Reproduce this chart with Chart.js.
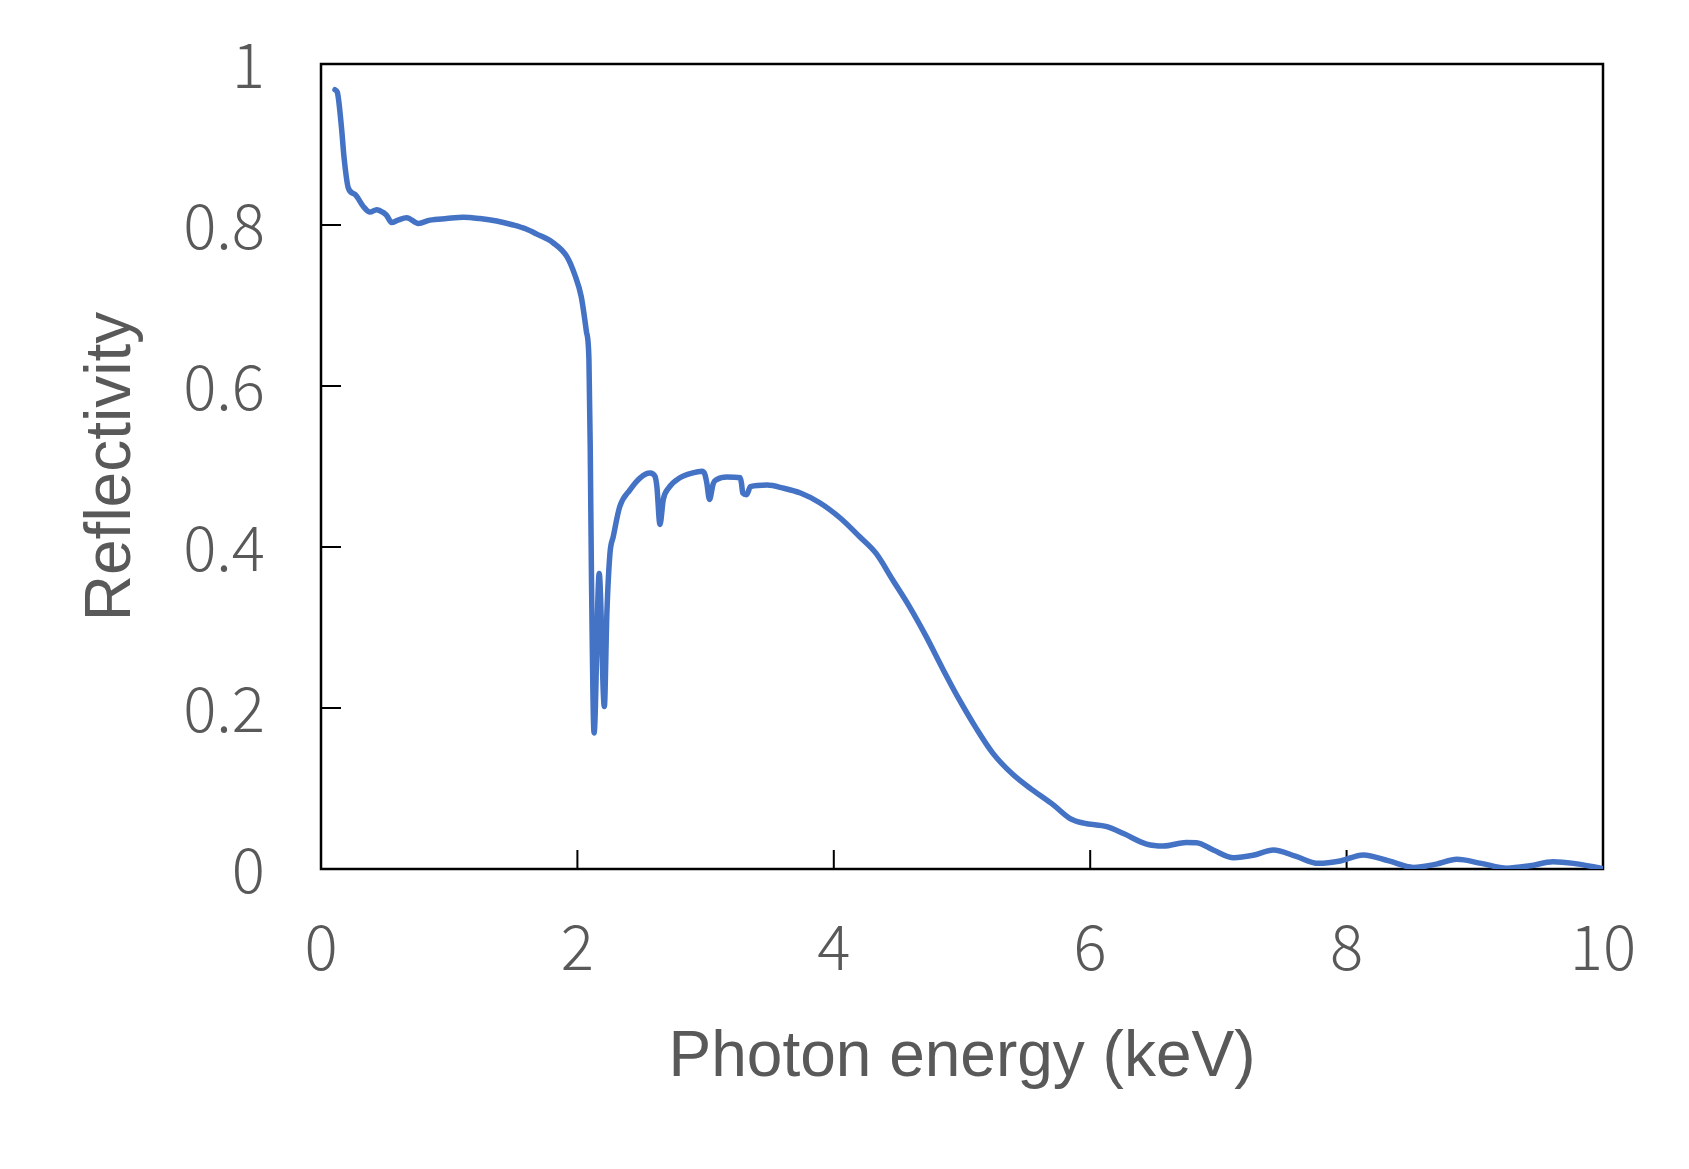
<!DOCTYPE html>
<html>
<head>
<meta charset="utf-8">
<script src="https://cdn.jsdelivr.net/npm/chart.js@4.4.1/dist/chart.umd.min.js"></script>
<style>
  html, body { margin: 0; padding: 0; background: #fff; }
  #wrap { width: 1689px; height: 1169px; }
</style>
</head>
<body>
<div id="wrap"><canvas id="reflChart" width="1689" height="1169"></canvas></div>
<script>
// Photon energy (keV)
const energy = [
    0.109, 0.127, 0.161, 0.179, 0.213, 0.265, 0.33, 0.382, 0.434, 0.49,
    0.512, 0.551, 0.60, 0.668, 0.759, 0.85, 0.98, 1.11, 1.24, 1.37,
    1.50, 1.60, 1.68, 1.81, 1.917, 1.98, 2.03, 2.07, 2.09, 2.10,
    2.11, 2.13, 2.17, 2.21, 2.23, 2.254, 2.28, 2.33, 2.41, 2.49,
    2.566, 2.605, 2.62, 2.644, 2.67, 2.71, 2.80, 2.90, 2.97, 2.995,
    3.01, 3.03, 3.06, 3.09, 3.165, 3.27, 3.28, 3.29, 3.32, 3.35,
    3.48, 3.61, 3.74, 3.89, 4.05, 4.20, 4.33, 4.46, 4.59, 4.72,
    4.855, 4.98, 5.11, 5.24, 5.40, 5.56, 5.71, 5.84, 5.95,
    6.13, 6.26, 6.44, 6.57, 6.75, 6.83, 6.96, 7.12, 7.27, 7.43,
    7.60, 7.78, 7.95, 8.13, 8.33, 8.52, 8.70, 8.86, 9.05, 9.25,
    9.43, 9.61, 9.77, 10.0
];

// Reflectivity at each energy
const reflectivity = [
    0.968, 0.965, 0.919, 0.885, 0.846, 0.838, 0.823, 0.816, 0.819, 0.815,
    0.812, 0.803, 0.806, 0.809, 0.802, 0.806, 0.808, 0.8096, 0.808, 0.805,
    0.800, 0.795, 0.789, 0.778, 0.761, 0.738, 0.711, 0.668, 0.633, 0.525,
    0.359, 0.169, 0.367, 0.202, 0.318, 0.392, 0.413, 0.450, 0.471, 0.486,
    0.492, 0.488, 0.475, 0.428, 0.459, 0.473, 0.486, 0.492, 0.494, 0.490,
    0.479, 0.459, 0.479, 0.484, 0.487, 0.486, 0.479, 0.467, 0.465, 0.475,
    0.477, 0.473, 0.467, 0.455, 0.436, 0.413, 0.392, 0.359, 0.326, 0.289,
    0.247, 0.210, 0.175, 0.144, 0.117, 0.097, 0.080, 0.063, 0.057,
    0.0526, 0.044, 0.031, 0.0286, 0.033, 0.0327, 0.0236, 0.0140, 0.017, 0.0236,
    0.016, 0.007, 0.010, 0.0174, 0.010, 0.002, 0.006, 0.012, 0.007, 0.001,
    0.004, 0.009, 0.007, 0.0004
];

const xTicks = [0, 2, 4, 6, 8, 10];
const yTicks = [0, 0.2, 0.4, 0.6, 0.8, 1];

const tickFont = { family: '"Noto Sans CJK JP", "Noto Sans", sans-serif', size: 62, weight: 300 };
const titleFont = { family: '"Liberation Sans", Arial, sans-serif', size: 64 };
const textColor = '#595959';

// Frame around the plot area plus inward tick marks
const framePlugin = {
    id: 'frame',
    beforeDatasetsDraw(chart) {
        const { ctx, chartArea: a, scales } = chart;
        ctx.save();
        ctx.strokeStyle = '#000';
        ctx.lineWidth = 2.5;
        ctx.strokeRect(a.left, a.top, a.right - a.left, a.bottom - a.top);
        ctx.lineWidth = 2;
        ctx.beginPath();
        xTicks.slice(1, -1).forEach(v => {
            const px = scales.x.getPixelForValue(v);
            ctx.moveTo(px, a.bottom);
            ctx.lineTo(px, a.bottom - 19);
        });
        yTicks.slice(1, -1).forEach(v => {
            const py = scales.y.getPixelForValue(v);
            ctx.moveTo(a.left, py);
            ctx.lineTo(a.left + 20, py);
        });
        ctx.stroke();
        ctx.restore();
    }
};

const points = energy.map((e, i) => ({ x: e, y: reflectivity[i] }));

new Chart(document.getElementById('reflChart'), {
    type: 'line',
    data: {
        datasets: [{
            data: points,
            borderColor: '#4472C4',
            borderWidth: 5.5,
            pointRadius: 0,
            cubicInterpolationMode: 'monotone',
            borderCapStyle: 'round',
            borderJoinStyle: 'round',
            fill: false
        }]
    },
    options: {
        responsive: false,
        animation: false,
        devicePixelRatio: 1,
        layout: { padding: { left: 0, top: 64, right: 86, bottom: 0 } },
        plugins: { legend: { display: false }, tooltip: { enabled: false } },
        scales: {
            x: {
                type: 'linear',
                min: 0,
                max: 10,
                afterBuildTicks: scale => { scale.ticks = xTicks.map(v => ({ value: v })); },
                afterFit: scale => {
                    scale.height = 300;
                    scale.paddingLeft = 0;
                    scale.paddingRight = 0;
                },
                grid: { display: false, drawTicks: false },
                border: { display: false },
                ticks: { font: tickFont, color: textColor, padding: 40, maxRotation: 0 },
                title: {
                    display: true,
                    text: 'Photon energy (keV)',
                    font: titleFont,
                    color: textColor,
                    padding: { top: 0, bottom: 72 }
                }
            },
            y: {
                type: 'linear',
                min: 0,
                max: 1,
                afterBuildTicks: scale => { scale.ticks = yTicks.map(v => ({ value: v })); },
                afterFit: scale => {
                    scale.width = 321;
                    scale.paddingTop = 0;
                    scale.paddingBottom = 0;
                },
                grid: { display: false, drawTicks: false },
                border: { display: false },
                ticks: {
                    font: tickFont,
                    color: textColor,
                    padding: 56,
                    callback: v => String(Math.round(v * 10) / 10)
                },
                title: {
                    display: true,
                    text: 'Reflectivity',
                    font: titleFont,
                    color: textColor,
                    padding: { top: 74, bottom: 0 }
                }
            }
        }
    },
    plugins: [framePlugin]
});
</script>
</body>
</html>
